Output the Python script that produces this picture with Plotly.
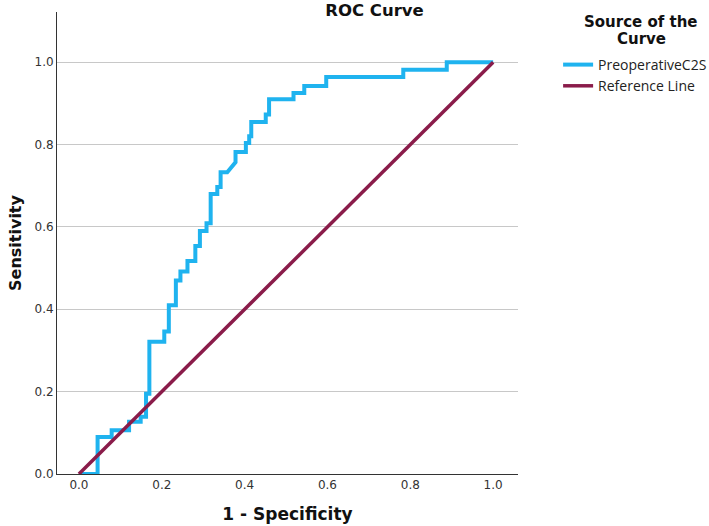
import plotly.graph_objects as go

# ROC step curve vertices (1 - Specificity, Sensitivity)
fpr = [0.0, 0.045, 0.045, 0.079, 0.079, 0.121, 0.121, 0.149, 0.149, 0.162, 0.162,
       0.170, 0.170, 0.206, 0.206, 0.217, 0.217, 0.234, 0.234, 0.245, 0.245,
       0.262, 0.262, 0.281, 0.281, 0.292, 0.292, 0.308, 0.308, 0.318, 0.318,
       0.334, 0.334, 0.342, 0.342, 0.358, 0.378, 0.378, 0.403, 0.403, 0.411,
       0.411, 0.416, 0.416, 0.451, 0.451, 0.459, 0.459, 0.518, 0.518, 0.544,
       0.544, 0.597, 0.597, 0.783, 0.783, 0.888, 0.888, 1.0]
tpr = [0.0, 0.0, 0.090, 0.090, 0.106, 0.106, 0.127, 0.127, 0.139, 0.139, 0.195,
       0.195, 0.321, 0.321, 0.346, 0.346, 0.410, 0.410, 0.470, 0.470, 0.492,
       0.492, 0.517, 0.517, 0.554, 0.554, 0.590, 0.590, 0.609, 0.609, 0.680,
       0.680, 0.697, 0.697, 0.733, 0.733, 0.757, 0.782, 0.782, 0.804, 0.804,
       0.820, 0.820, 0.855, 0.855, 0.873, 0.873, 0.910, 0.910, 0.925, 0.925,
       0.942, 0.942, 0.964, 0.964, 0.982, 0.982, 1.0, 1.0]

ref_x = [0.0, 1.0]
ref_y = [0.0, 1.0]

series_names = ["PreoperativeC2S", "Reference Line"]
legend_title_lines = ["Source of the", "Curve"]
tick_vals = [0.0, 0.2, 0.4, 0.6, 0.8, 1.0]
tick_text = ["0.0", "0.2", "0.4", "0.6", "0.8", "1.0"]

BLUE = "#1FB3EF"
MAROON = "#8A1C4A"
FONT = "DejaVu Sans"
LEGFONT = "Open Sans"

fig = go.Figure()
fig.add_trace(go.Scatter(x=fpr, y=tpr, mode="lines", name=series_names[0],
                         line=dict(color=BLUE, width=4)))
fig.add_trace(go.Scatter(x=ref_x, y=ref_y, mode="lines", name=series_names[1],
                         line=dict(color=MAROON, width=3.5)))

# legend title drawn as centered text above the legend
leg_title_y = [22, 39]
for txt, ypx in zip(legend_title_lines, leg_title_y):
    fig.add_annotation(text="<b>" + txt + "</b>", xref="paper", yref="paper",
                       x=(641 - 57) / 461, y=(474 - ypx) / 462,
                       xanchor="center", yanchor="middle", showarrow=False,
                       font=dict(family=FONT, size=15, color="#111111"))

fig.update_layout(
    width=709, height=526,
    margin=dict(l=57, r=191, t=12, b=52, autoexpand=False),
    paper_bgcolor="white", plot_bgcolor="white",
    font=dict(family=FONT, color="#222222", size=12),
    title=dict(text="<b>ROC Curve</b>", x=374.5 / 709, xref="container", xanchor="center",
               y=1 - 10.5 / 526, yref="container", yanchor="middle",
               font=dict(family=FONT, size=16.5, color="#111111")),
    xaxis=dict(range=[-0.053, 1.06], tickvals=tick_vals, ticktext=tick_text,
               showgrid=False, zeroline=False, showline=True, linecolor="#333333",
               linewidth=1, ticks="", tickfont=dict(size=12, color="#333333"),
               title=dict(text="<b>1 - Specificity</b>",
                          font=dict(family=FONT, size=17, color="#111111"),
                          standoff=16)),
    yaxis=dict(range=[0, 1.122], tickvals=tick_vals, ticktext=tick_text,
               showgrid=True, gridcolor="#C8C8C8", gridwidth=1, zeroline=False,
               showline=True, linecolor="#333333", linewidth=1, ticks="",
               tickfont=dict(size=12, color="#333333"),
               title=dict(text="<b>Sensitivity</b>",
                          font=dict(family=FONT, size=16, color="#111111"),
                          standoff=8)),
    legend=dict(x=1.087, xanchor="left", y=(474 - 49) / 462, yanchor="top",
                font=dict(family=LEGFONT, size=14, color="#222222"),
                itemwidth=30, tracegroupgap=0, bgcolor="rgba(0,0,0,0)"),
    showlegend=True,
)

fig.write_html("out.html")
